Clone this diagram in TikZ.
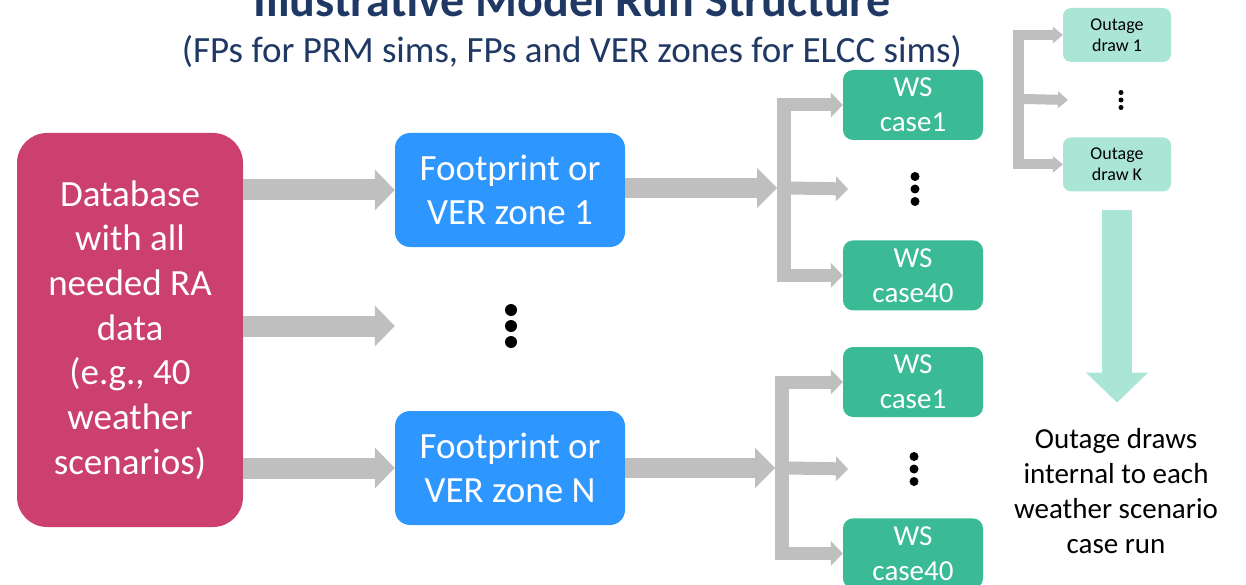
\documentclass[tikz,border=0pt]{standalone}
\usepackage{fontspec}
\setmainfont{Carlito}
\usetikzlibrary{positioning,calc,arrows.meta}

\definecolor{dbpink}{RGB}{204,64,112}
\definecolor{fpblue}{RGB}{46,150,255}
\definecolor{wsgreen}{RGB}{59,186,150}
\definecolor{odmint}{RGB}{171,229,214}
\definecolor{titlenavy}{RGB}{31,56,100}
\definecolor{flowgray}{RGB}{191,191,191}

\newcommand\dotstack[3]{\foreach \k in {-1,0,1} \fill ($#1+(0,\k*#3)$) circle (#2);}

\tikzset{
  box/.style={rounded corners=#1, inner sep=0pt, align=center, text=white},
  dbbox/.style={box=30pt, fill=dbpink, minimum width=226pt, minimum height=394pt, font=\fontsize{37}{44.7}\selectfont},
  fpbox/.style={box=15pt, fill=fpblue, minimum width=230pt, minimum height=114pt, font=\fontsize{37}{44}\selectfont},
  wsbox/.style={box=10pt, fill=wsgreen, minimum width=140pt, minimum height=70pt, font=\fontsize{29}{35}\selectfont},
  odbox/.style={box=8pt, fill=odmint, text=black, minimum width=108pt, minimum height=54pt, font=\fontsize{18}{21}\selectfont},
  fatarrow/.style={draw=flowgray, line width=21pt, -{Triangle[width=41pt,length=20pt,line width=0pt]}},
  forkarrow/.style={draw=flowgray, line width=20pt, -{Triangle[width=40pt,length=20pt,line width=0pt]}},
  trunk/.style={draw=flowgray, line width=#1},
  twig/.style={draw=flowgray, line width=13pt, -{Triangle[width=25pt,length=12pt,line width=0pt]}},
  odtwig/.style={draw=flowgray, line width=10pt, -{Triangle[width=17pt,length=10pt,line width=0pt]}},
  mintarrow/.style={draw=odmint, line width=30pt, -{Triangle[width=62pt,length=30pt,line width=0pt]}}
}

\begin{document}
\begin{tikzpicture}[x=1pt,y=-1pt]
  \useasboundingbox (0,0) rectangle (1246,585);

  \node[anchor=base, text=titlenavy, font=\bfseries\fontsize{48}{56}\selectfont] (title) at (572,17) {Illustrative Model Run Structure};
  \node[anchor=base, text=titlenavy, font=\fontsize{37}{44}\selectfont] (subtitle) at (572,63) {(FPs for PRM sims, FPs and VER zones for ELCC sims)};

  \node[dbbox] (db) at (130,330) {Database\\with all\\needed RA\\data\\(e.g., 40\\weather\\scenarios)};
  \node[fpbox] (fp1) at (510,190) {Footprint or\\VER zone 1};
  \node[fpbox] (fpN) at (510,468) {Footprint or\\VER zone N};
  \coordinate (fpdots) at (511,326);

  \node[wsbox] (ws11) at (913,105) {WS\\case1};
  \node[wsbox, below=100pt of ws11] (ws1K) {WS\\case40};
  \coordinate (wsdots1) at (915,189);
  \node[wsbox] (ws21) at (913,382) {WS\\case1};
  \node[wsbox, below=101pt of ws21] (ws2K) {WS\\case40};
  \coordinate (wsdots2) at (914,469);

  \node[odbox] (od1) at (1117,35) {Outage\\draw 1};
  \node[odbox, below=75pt of od1] (odK) {Outage\\draw K};
  \coordinate (oddots) at (1121,100);
  \node[align=center, font=\fontsize{29}{35}\selectfont] (note) at (1116,491) {Outage draws\\internal to each\\weather scenario\\case run};

  \draw[fatarrow] (db.east |- fp1.west) -- (fp1.west);
  \draw[fatarrow] (db.east |- fpdots) -- (fp1.west |- fpdots);
  \draw[fatarrow] (db.east |- fpN.west) -- (fpN.west);
  \dotstack{(fpdots)}{6pt}{16}

  \coordinate (fork1) at (777,188);
  \draw[forkarrow] (fp1.east |- fork1) -- (fork1);
  \draw[trunk=14pt] ($(fork1 |- ws11.west)+(7,-6.5)$) -- ($(fork1 |- ws1K.west)+(7,6.5)$);
  \draw[twig] ($(fork1 |- ws11.west)+(14,0)$) -- (ws11.west);
  \draw[twig] ($(fork1)+(14,0)$) -- ($(wsdots1)+(-67,0)$);
  \draw[twig] ($(fork1 |- ws1K.west)+(14,0)$) -- (ws1K.west);
  \dotstack{(wsdots1)}{4.5pt}{12.5}

  \coordinate (fork2) at (775,468);
  \draw[forkarrow] (fpN.east |- fork2) -- (fork2);
  \draw[trunk=14pt] ($(fork2 |- ws21.west)+(7,-6.5)$) -- ($(fork2 |- ws2K.west)+(7,6.5)$);
  \draw[twig] ($(fork2 |- ws21.west)+(14,0)$) -- (ws21.west);
  \draw[twig] ($(fork2)+(14,0)$) -- ($(wsdots2)+(-66,0)$);
  \draw[twig] ($(fork2 |- ws2K.west)+(14,0)$) -- (ws2K.west);
  \dotstack{(wsdots2)}{4.5pt}{12.5}

  \coordinate (odfork) at (1013,99);
  \draw[trunk=11pt] ($(odfork |- od1.west)+(5.5,-5)$) -- ($(odfork |- odK.west)+(5.5,5)$);
  \draw[odtwig] ($(odfork |- od1.west)+(11,0)$) -- (od1.west);
  \draw[odtwig] ($(odfork)+(11,0)$) -- ($(oddots)+(-53,0)$);
  \draw[odtwig] ($(odfork |- odK.west)+(11,0)$) -- (odK.west);
  \dotstack{(oddots)}{2.5pt}{7.5}

  \draw[mintarrow] ($(odK.south)+(0,18)$) -- ($(odK.south)+(0,211)$);
\end{tikzpicture}
\end{document}
